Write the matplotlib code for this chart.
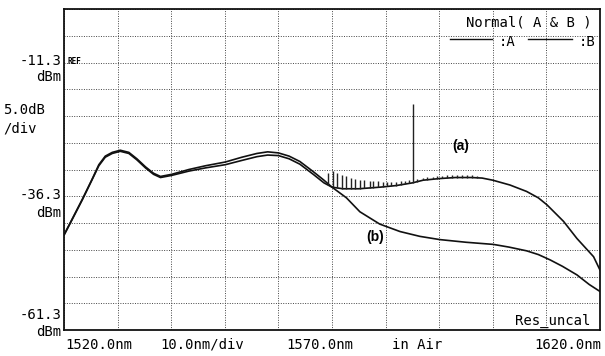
import numpy as np
import matplotlib
matplotlib.use("Agg")
from matplotlib import pyplot as plt
from matplotlib.lines import Line2D

# trace A (with ripples) - smooth envelope, nm / dBm
a_nm = [1520.0, 1521.5, 1523.4, 1525.2, 1526.5, 1527.7, 1529.0, 1530.5, 1532.1, 1533.6,
        1535.2, 1536.7, 1538.0, 1540.1, 1543.3, 1546.4, 1550.1, 1553.2, 1556.0, 1558.0,
        1560.0, 1562.0, 1564.0, 1566.5, 1568.5, 1570.0, 1572.0, 1575.0, 1579.0, 1582.0,
        1585.0, 1587.0, 1590.0, 1593.0, 1596.0, 1598.0, 1600.0, 1603.2, 1606.3, 1608.5,
        1610.1, 1613.2, 1615.7, 1618.8, 1620.0]
a_dbm = [-43.6, -40.7, -37.0, -33.3, -30.6, -29.0, -28.3, -27.9, -28.3, -29.5,
         -31.0, -32.2, -32.8, -32.4, -31.6, -31.0, -30.4, -29.6, -28.9, -28.6,
         -28.7, -29.3, -30.3, -32.2, -33.8, -34.6, -34.9, -34.9, -34.6, -34.3,
         -33.8, -33.3, -33.0, -32.8, -32.8, -32.9, -33.3, -34.2, -35.4, -36.6,
         -37.9, -41.0, -44.2, -47.6, -50.1]

# trace B
b_nm = [1520.0, 1521.5, 1523.4, 1525.2, 1526.5, 1527.7, 1529.0, 1530.5, 1532.1, 1533.6,
        1535.2, 1536.7, 1538.0, 1540.1, 1543.3, 1546.4, 1550.1, 1553.2, 1556.0, 1558.0,
        1560.0, 1562.0, 1564.0, 1566.5, 1568.5, 1570.0, 1572.7, 1575.2, 1578.9, 1582.7,
        1586.4, 1590.1, 1595.0, 1600.1, 1603.0, 1606.3, 1608.5, 1610.7, 1613.0, 1615.7,
        1618.0, 1620.0]
b_dbm = [-43.5, -40.6, -36.9, -33.2, -30.4, -28.8, -28.1, -27.7, -28.1, -29.3,
         -30.8, -32.0, -32.6, -32.2, -31.3, -30.6, -29.9, -29.0, -28.3, -28.0,
         -28.2, -28.8, -29.8, -31.7, -33.3, -34.6, -36.6, -39.2, -41.5, -42.9,
         -43.8, -44.4, -44.9, -45.3, -45.8, -46.5, -47.2, -48.2, -49.4, -51.0,
         -52.8, -54.1]

# ripple spikes on trace A: position (nm) and height above trace (dB)
rip_nm = [1569.2, 1570.1, 1570.9, 1571.8, 1572.6, 1573.5, 1574.3, 1575.2, 1576.0, 1577.0,
          1577.7, 1578.6, 1579.5, 1580.3, 1581.1, 1581.9, 1582.8, 1583.6, 1584.4, 1585.2,
          1585.9, 1586.9, 1587.8, 1588.8, 1589.5, 1590.5, 1591.4, 1592.3, 1593.3, 1594.2,
          1595.2, 1596.1, 1597.0]
rip_db = [2.2, 3.0, 2.8, 2.5, 2.3, 2.1, 1.9, 1.7, 1.5, 1.3,
          1.2, 1.1, 1.0, 0.9, 0.8, 0.7, 0.7, 0.6, 0.6, 14.6,
          0.5, 0.5, 0.5, 0.5, 0.5, 0.5, 0.5, 0.5, 0.45, 0.45,
          0.4, 0.4, 0.4]

W, H = 605, 356
mono = "DejaVu Sans Mono"


def px(x, y):
    return x / W, 1 - y / H


fig = plt.figure(figsize=(W / 100, H / 100), dpi=100)
ax = fig.add_axes([64 / W, 26 / H, 536 / W, 321 / H])
ax.set_xlim(1520, 1620)
ax.set_ylim(-61.3, -1.3)
ax.set_xticks(np.arange(1520, 1621, 10))
ax.set_yticks(np.arange(-61.3, -1.2, 5.0))
ax.tick_params(length=0, labelbottom=False, labelleft=False)
ax.grid(True, ls=(0, (1, 1.5)), color="#444", lw=0.7)
for s in ax.spines.values():
    s.set_linewidth(1.3)
    s.set_color("#111")

ax.plot(a_nm, a_dbm, color="#111", lw=1.2)
ax.plot(b_nm, b_dbm, color="#111", lw=1.2)
base = np.interp(rip_nm, a_nm, a_dbm)
ax.vlines(rip_nm, base, base + np.array(rip_db), color="#222", lw=1.0)

ax.text(1594, -27.0, "(a)", fontsize=10, fontweight="bold", family="Liberation Sans",
        ha="center", va="center")
ax.text(1578, -44.0, "(b)", fontsize=10, fontweight="bold", family="Liberation Sans",
        ha="center", va="center")

# left labels
for y, s in [(61, "-11.3"), (77, "dBm"), (195, "-36.3"), (213, "dBm"),
             (315, "-61.3"), (332, "dBm")]:
    fig.text(*px(61, y), s, family=mono, fontsize=10, ha="right", va="center")
fig.text(*px(3, 110), "5.0dB", family=mono, fontsize=10, ha="left", va="center")
fig.text(*px(3, 128), "/div", family=mono, fontsize=10, ha="left", va="center")
fig.text(*px(67, 62), "REF", family=mono, fontsize=5.5, fontweight="bold",
         ha="left", va="center")

# bottom labels
for x, s, ha in [(65, "1520.0nm", "left"), (160, "10.0nm/div", "left"),
                 (286, "1570.0nm", "left"), (392, "in Air", "left"),
                 (601, "1620.0nm", "right")]:
    fig.text(*px(x, 345), s, family=mono, fontsize=10, ha=ha, va="center")

fig.text(*px(592, 22), "Normal( A & B )", family=mono, fontsize=10, ha="right", va="center")
fig.text(*px(499, 42), ":A", family=mono, fontsize=10, ha="left", va="center")
fig.text(*px(579, 42), ":B", family=mono, fontsize=10, ha="left", va="center")
for x0, x1 in [(450, 492), (528, 572)]:
    fig.add_artist(Line2D([x0 / W, x1 / W], [1 - 39 / H, 1 - 39 / H], color="#111", lw=1.0))
fig.text(*px(590, 321), "Res_uncal", family=mono, fontsize=10, ha="right", va="center")

fig.savefig("out.png", dpi=100)
